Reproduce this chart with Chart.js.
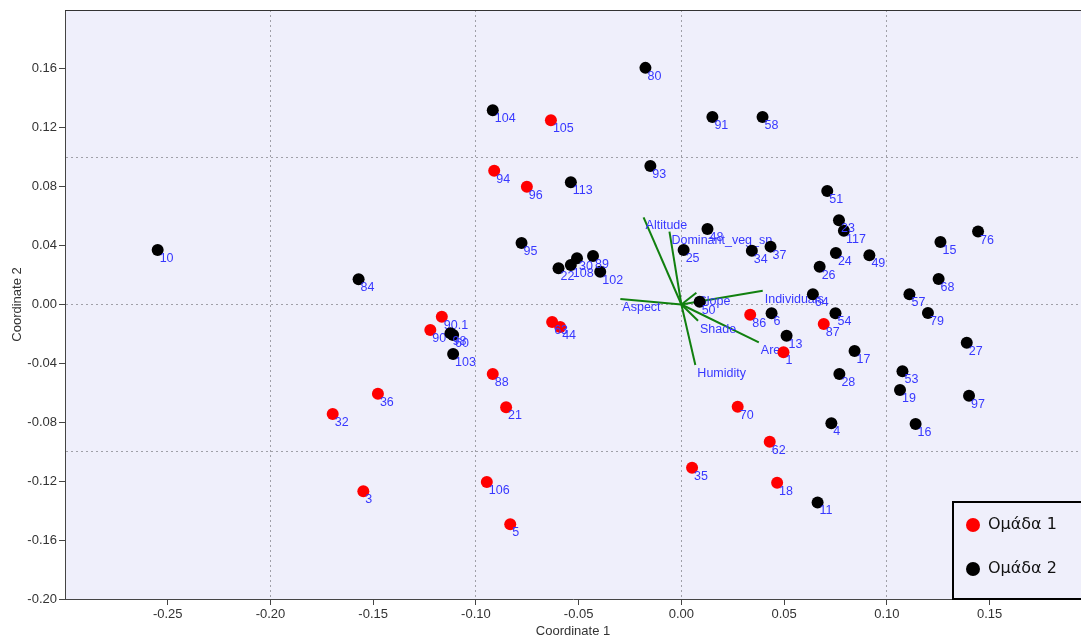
<!DOCTYPE html>
<html><head><meta charset="utf-8">
<script src="https://cdn.jsdelivr.net/npm/chart.js@4.4.1/dist/chart.umd.min.js"></script>
<style>html,body{margin:0;padding:0;background:#fff;} #wrap{width:1081px;height:636px;}</style>
</head><body><div id="wrap"><canvas id="c" width="1081" height="636"></canvas></div>
<script>
// ---- data ----
const GROUP_NAMES = ['Ομάδα 1', 'Ομάδα 2'];

const G1_LABELS = ['105','94','96','90.1','90','88','36','32','21','3','106','5','63','44','86','1','87','70','62','35','18'];
const G1_X = [-0.0635,-0.0911,-0.0752,-0.1166,-0.1222,-0.0918,-0.1477,-0.1697,-0.0853,-0.1548,-0.0947,-0.0833,-0.0629,-0.0590,0.0335,0.0497,0.0693,0.0274,0.0430,0.0052,0.0466];
const G1_Y = [0.1251,0.0909,0.0800,-0.0083,-0.0173,-0.0472,-0.0606,-0.0744,-0.0698,-0.1269,-0.1206,-0.1493,-0.0119,-0.0153,-0.0069,-0.0325,-0.0132,-0.0694,-0.0932,-0.1109,-0.1211];

const G2_LABELS = ['10','84','95','104','113','80','91','58','93','98','60','103','22','108','30','89','102','48','25','34','37','50','6','13','64','26','51','23','117','24','49','15','76','68','57','79','54','17','27','28','53','19','97','4','16','11'];
const G2_X = [-0.2549,-0.1571,-0.0778,-0.0918,-0.0538,-0.0175,0.0151,0.0395,-0.0151,-0.1124,-0.1111,-0.1111,-0.0598,-0.0538,-0.0508,-0.0430,-0.0395,0.0127,0.0011,0.0343,0.0434,0.0089,0.0439,0.0512,0.0640,0.0673,0.0710,0.0767,0.0791,0.0752,0.0915,0.1261,0.1444,0.1252,0.1110,0.1200,0.0750,0.0843,0.1389,0.0769,0.1076,0.1064,0.1400,0.0730,0.1140,0.0663];
const G2_Y = [0.0370,0.0171,0.0418,0.1319,0.0830,0.1607,0.1274,0.1274,0.0941,-0.0196,-0.0207,-0.0336,0.0246,0.0268,0.0314,0.0329,0.0223,0.0513,0.0370,0.0365,0.0393,0.0019,-0.0060,-0.0212,0.0069,0.0257,0.0771,0.0572,0.0501,0.0350,0.0334,0.0425,0.0495,0.0173,0.0069,-0.0058,-0.0060,-0.0316,-0.0260,-0.0472,-0.0454,-0.0581,-0.0620,-0.0807,-0.0812,-0.1344];

const VEC_NAMES = ['Altitude','Dominant_veg_sp','Aspect','Slope','Individuals','Shade','Area','Humidity'];
const VEC_X = [-0.0184,-0.0058,-0.0297,0.0073,0.0396,0.0081,0.0377,0.0068];
const VEC_Y = [0.0592,0.0495,0.0037,0.0080,0.0094,-0.0110,-0.0257,-0.0411];

const X_TICKS = [-0.25,-0.20,-0.15,-0.10,-0.05,0.00,0.05,0.10,0.15];
const Y_TICKS = [-0.20,-0.16,-0.12,-0.08,-0.04,0.00,0.04,0.08,0.12,0.16];
const X_GRID = [-0.2,-0.1,0.0,0.1];
const Y_GRID = [-0.1,0.0,0.1];
const X_MIN = -0.30, X_MAX = 0.1945;
const Y_MIN = -0.20, Y_MAX = 0.20;

// ---- helpers ----
const has = (arr, v) => arr.some(a => Math.abs(a - v) < 1e-9);
const merged = (a, b) => [...new Set([...a, ...b].map(v => +v.toFixed(4)))].sort((p, q) => p - q);
const FONT = "'Liberation Sans', Arial, sans-serif";
const LABEL_COLOR = '#3838ff';
const PLOT_BG = '#efeffb';

const pts = (xs, ys) => xs.map((x, i) => ({x: x, y: ys[i]}));

const datasets = [
  {label: GROUP_NAMES[0], data: pts(G1_X, G1_Y), backgroundColor: '#ff0000', borderWidth: 0,
   pointRadius: 6, pointHoverRadius: 6, ptLabels: G1_LABELS, order: 1},
  {label: GROUP_NAMES[1], data: pts(G2_X, G2_Y), backgroundColor: '#000000', borderWidth: 0,
   pointRadius: 6, pointHoverRadius: 6, ptLabels: G2_LABELS, order: 0}
];
VEC_NAMES.forEach((n, i) => {
  datasets.push({label: n, data: [{x: 0, y: 0}, {x: VEC_X[i], y: VEC_Y[i]}], showLine: true,
    borderColor: '#11800f', borderWidth: 2, pointRadius: 0, pointHoverRadius: 0,
    ptLabels: ['', n], order: 2, isVector: true});
});

const labelPlugin = {
  id: 'ptlabels',
  afterDatasetDraw(chart, args) {
    const ds = chart.data.datasets[args.index];
    if (!ds.ptLabels) return;
    const ctx = chart.ctx;
    ctx.save();
    ctx.font = '12.5px ' + FONT;
    ctx.fillStyle = LABEL_COLOR;
    ctx.textAlign = 'left';
    ctx.textBaseline = 'alphabetic';
    args.meta.data.forEach((el, i) => {
      const t = ds.ptLabels[i];
      if (t) ctx.fillText(t, el.x + 2, el.y + 12);
    });
    ctx.restore();
  }
};

const framePlugin = {
  id: 'frame',
  beforeDraw(chart) {
    const {ctx, chartArea: a} = chart;
    ctx.save();
    ctx.fillStyle = '#ffffff';
    ctx.fillRect(0, 0, chart.width, chart.height);
    ctx.fillStyle = PLOT_BG;
    ctx.fillRect(a.left, a.top, a.right - a.left, a.bottom - a.top);
    ctx.restore();
  },
  afterDraw(chart) {
    const {ctx, chartArea: a} = chart;
    ctx.save();
    ctx.strokeStyle = '#333';
    ctx.lineWidth = 1;
    ctx.beginPath();
    ctx.moveTo(a.left, a.top + 0.5);
    ctx.lineTo(a.right, a.top + 0.5);
    ctx.stroke();
    // legend box
    const w = 130, h = 99;
    const left = a.right - w + 1, top = a.bottom - h + 1;
    ctx.fillStyle = PLOT_BG;
    ctx.fillRect(left, top, w, h);
    ctx.strokeStyle = '#000';
    ctx.lineWidth = 2;
    ctx.strokeRect(left + 1, top + 1, w, h - 2);
    const cols = [chart.data.datasets[0].backgroundColor, chart.data.datasets[1].backgroundColor];
    [0, 1].forEach(k => {
      const cy = top + 24 + k * 44;
      ctx.fillStyle = cols[k];
      ctx.beginPath();
      ctx.arc(left + 21, cy, 7, 0, Math.PI * 2);
      ctx.fill();
      ctx.fillStyle = '#111';
      ctx.font = "16px 'DejaVu Sans', sans-serif";
      ctx.textAlign = 'left';
      ctx.textBaseline = 'middle';
      ctx.fillText(chart.data.datasets[k].label, left + 36, cy);
    });
    ctx.restore();
  }
};

const gridColor = (list) => (c) => (c.tick && has(list, c.tick.value)) ? '#a0a0a8' : 'rgba(0,0,0,0)';
const tickColor = (list) => (c) => (c.tick && has(list, c.tick.value)) ? '#444' : 'rgba(0,0,0,0)';

new Chart(document.getElementById('c'), {
  type: 'scatter',
  data: {datasets: datasets},
  plugins: [framePlugin, labelPlugin],
  options: {
    responsive: false,
    animation: false,
    devicePixelRatio: 1,
    layout: {autoPadding: false, padding: {left: 0, top: 10, right: 0, bottom: 0}},
    plugins: {legend: {display: false}, tooltip: {enabled: false}},
    scales: {
      x: {
        type: 'linear', min: X_MIN, max: X_MAX,
        afterBuildTicks: (ax) => { ax.ticks = merged(X_TICKS, X_GRID).map(v => ({value: v})); },
        afterFit: (ax) => { ax.height = 37; },
        ticks: {autoSkip: false, maxRotation: 0, padding: 2, color: '#333', font: {family: FONT, size: 13},
          callback: (v) => has(X_TICKS, v) ? v.toFixed(2) : ''},
        grid: {color: gridColor(X_GRID), tickColor: tickColor(X_TICKS), tickLength: 6, lineWidth: 1},
        border: {display: true, color: '#444', width: 1, dash: [2, 3]},
        title: {display: true, text: 'Coordinate 1', color: '#333', font: {family: FONT, size: 13, lineHeight: 1},
          padding: {top: 0, bottom: -2}}
      },
      y: {
        type: 'linear', min: Y_MIN, max: Y_MAX,
        afterBuildTicks: (ax) => { ax.ticks = merged(Y_TICKS, Y_GRID).map(v => ({value: v})); },
        afterFit: (ax) => { ax.width = 65; },
        ticks: {autoSkip: false, padding: 2, color: '#333', font: {family: FONT, size: 13},
          callback: (v) => has(Y_TICKS, v) ? v.toFixed(2) : ''},
        grid: {color: gridColor(Y_GRID), tickColor: tickColor(Y_TICKS), tickLength: 6, lineWidth: 1},
        border: {display: true, color: '#444', width: 1, dash: [2, 3]},
        title: {display: true, text: 'Coordinate 2', color: '#333', font: {family: FONT, size: 13},
          padding: {top: 10, bottom: 0}}
      }
    }
  }
});
</script>
</body></html>
